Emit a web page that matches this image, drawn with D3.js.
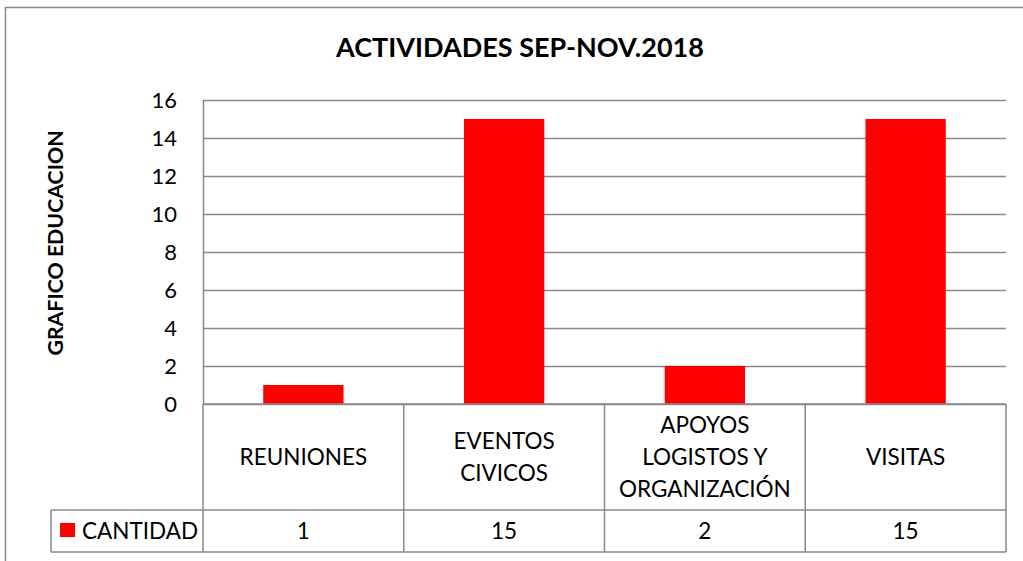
<!DOCTYPE html>
<html>
<head>
<meta charset="utf-8">
<script src="https://cdn.jsdelivr.net/npm/d3@7"></script>
<style>
  html, body { margin: 0; padding: 0; background: #fff; }
  svg { display: block; font-family: Lato, "Open Sans", sans-serif; }
</style>
</head>
<body>
<div id="chart"></div>
<script>
// datos del gráfico
const categoryLines = [
    ["REUNIONES"],
    ["EVENTOS", "CIVICOS"],
    ["APOYOS", "LOGISTOS Y", "ORGANIZACIÓN"],
    ["VISITAS"]
];
const cantidad = [1, 15, 2, 15];
const yTicks = [0, 2, 4, 6, 8, 10, 12, 14, 16];
const seriesName = "CANTIDAD";
const titleText = "ACTIVIDADES SEP-NOV.2018";
const yTitle = "GRAFICO EDUCACION";

(function() {
    const width = 1023, height = 561;
    const plot = { left: 203, right: 1006, top: 100, bottom: 404 };
    const row1Bottom = 510, row2Bottom = 552, legendLeft = 51;
    const gray = "#898989";

    const svg = d3.select("#chart").append("svg")
        .attr("width", width)
        .attr("height", height);

    // marco exterior del gráfico
    svg.append("rect")
        .attr("x", 5.5).attr("y", 7.5)
        .attr("width", 1040).attr("height", 600)
        .attr("fill", "none").attr("stroke", gray).attr("stroke-width", 1.5);

    const keys = categoryLines.map(d => d.join(" "));

    const x = d3.scaleBand()
        .domain(keys)
        .range([plot.left, plot.right])
        .paddingInner(0.6)
        .paddingOuter(0.3);

    const y = d3.scaleLinear()
        .domain([0, 16])
        .range([plot.bottom, plot.top]);

    const step = x.step();
    const colStart = i => plot.left + i * step;

    // líneas de cuadrícula
    svg.append("g")
        .attr("transform", `translate(${plot.left},0)`)
        .call(d3.axisLeft(y).tickValues(yTicks).tickSize(-(plot.right - plot.left)).tickFormat(""))
        .call(g => g.select(".domain").remove())
        .call(g => g.selectAll(".tick line").attr("stroke", gray).attr("stroke-width", 1.5));

    // eje Y con etiquetas
    svg.append("g")
        .attr("transform", `translate(${plot.left},0)`)
        .call(d3.axisLeft(y).tickValues(yTicks).tickSize(0).tickSizeOuter(0).tickPadding(26))
        .call(g => g.select(".domain").attr("stroke", gray).attr("stroke-width", 1.5))
        .call(g => g.selectAll(".tick text")
            .attr("font-size", 22)
            .attr("font-family", "Lato, sans-serif")
            .attr("fill", "#000"));

    // barras
    svg.append("g").selectAll("rect")
        .data(cantidad)
        .join("rect")
        .attr("x", (d, i) => x(keys[i]))
        .attr("y", d => y(d))
        .attr("width", x.bandwidth())
        .attr("height", d => y(0) - y(d))
        .attr("fill", "#ff0000");

    // tabla de datos
    const table = svg.append("g")
        .attr("fill", "none")
        .attr("stroke", gray)
        .attr("stroke-width", 1.5);

    table.append("line")
        .attr("x1", plot.left).attr("x2", plot.right)
        .attr("y1", plot.bottom).attr("y2", plot.bottom);
    table.append("line")
        .attr("x1", legendLeft).attr("x2", plot.right)
        .attr("y1", row1Bottom).attr("y2", row1Bottom);
    table.append("line")
        .attr("x1", legendLeft).attr("x2", plot.right)
        .attr("y1", row2Bottom).attr("y2", row2Bottom);
    table.append("line")
        .attr("x1", legendLeft).attr("x2", legendLeft)
        .attr("y1", row1Bottom).attr("y2", row2Bottom);
    table.selectAll(".col")
        .data(d3.range(keys.length + 1))
        .join("line")
        .attr("class", "col")
        .attr("x1", i => colStart(i)).attr("x2", i => colStart(i))
        .attr("y1", plot.bottom).attr("y2", row2Bottom);

    const fontSize = 22.5;
    const lineH = 32;
    const rowMid = (plot.bottom + row1Bottom) / 2;

    svg.append("g").selectAll("text")
        .data(categoryLines)
        .join("text")
        .attr("text-anchor", "middle")
        .attr("font-size", fontSize)
        .attr("fill", "#000")
        .each(function(lines, i) {
            const cx = colStart(i) + step / 2;
            const y0 = rowMid - (lines.length - 1) * lineH / 2;
            d3.select(this).selectAll("tspan")
                .data(lines)
                .join("tspan")
                .attr("x", cx)
                .attr("y", (d, j) => y0 + j * lineH)
                .attr("dy", "0.35em")
                .text(d => d);
        });

    const row2Mid = (row1Bottom + row2Bottom) / 2;
    svg.append("g").selectAll("text")
        .data(cantidad)
        .join("text")
        .attr("x", (d, i) => colStart(i) + step / 2)
        .attr("y", row2Mid)
        .attr("dy", "0.35em")
        .attr("text-anchor", "middle")
        .attr("font-size", fontSize)
        .attr("fill", "#000")
        .text(d => d);

    // leyenda
    svg.append("rect")
        .attr("x", 60).attr("y", 523)
        .attr("width", 15).attr("height", 14)
        .attr("fill", "#ff0000");
    svg.append("text")
        .attr("x", 82).attr("y", row2Mid)
        .attr("dy", "0.35em")
        .attr("font-size", fontSize)
        .attr("fill", "#000")
        .text(seriesName);

    // títulos
    svg.append("text")
        .attr("x", 520).attr("y", 48)
        .attr("dy", "0.35em")
        .attr("text-anchor", "middle")
        .attr("font-size", 27)
        .attr("font-weight", "bold")
        .attr("fill", "#000")
        .text(titleText);

    svg.append("text")
        .attr("transform", "translate(56,243) rotate(-90)")
        .attr("dy", "0.35em")
        .attr("text-anchor", "middle")
        .attr("font-size", 21.3)
        .attr("font-weight", "bold")
        .attr("fill", "#000")
        .text(yTitle);
})();
</script>
</body>
</html>
